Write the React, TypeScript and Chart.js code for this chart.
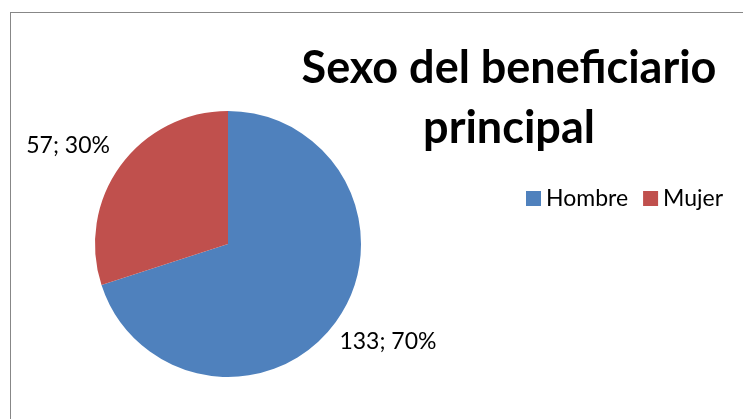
import React, { useEffect, useRef } from "react";
import { Chart, registerables } from "chart.js";

Chart.register(...registerables);

const categories = ["Hombre", "Mujer"];
const counts = [133, 57];
const percentLabels = ["70%", "30%"];
const colors = ["#4F81BD", "#C0504D"];
const titleLines = ["Sexo del beneficiario", "principal"];
const FONT = "Lato, 'Open Sans', sans-serif";

const decorPlugin = {
  id: "decor",
  beforeDraw(chart: any) {
    const ctx = chart.ctx;
    ctx.save();
    ctx.fillStyle = "#ffffff";
    ctx.fillRect(0, 0, chart.width, chart.height);
    ctx.strokeStyle = "#878787";
    ctx.lineWidth = 1;
    ctx.strokeRect(10.5, 12.5, chart.width + 20, chart.height + 20);
    ctx.restore();
  },
  afterDraw(chart: any) {
    const ctx = chart.ctx;
    ctx.save();
    // title
    ctx.fillStyle = "#000000";
    ctx.font = `bold 45px ${FONT}`;
    ctx.textAlign = "center";
    ctx.textBaseline = "alphabetic";
    ctx.fillText(titleLines[0], 509, 83);
    ctx.fillText(titleLines[1], 509, 143);

    // legend
    ctx.font = `23px ${FONT}`;
    ctx.textBaseline = "alphabetic";
    ctx.textAlign = "left";
    let x = 526;
    const base = 206;
    categories.forEach((c, i) => {
      ctx.fillStyle = colors[i];
      ctx.fillRect(x, base - 15, 15, 15);
      ctx.fillStyle = "#000";
      ctx.fillText(c, x + 20, base);
      x += 20 + ctx.measureText(c).width + 15;
    });

    // data labels
    const meta = chart.getDatasetMeta(0);
    ctx.font = `23px ${FONT}`;
    ctx.textAlign = "center";
    ctx.textBaseline = "middle";
    ctx.fillStyle = "#000";
    meta.data.forEach((arc: any, i: number) => {
      const p = arc.getProps(["x", "y", "startAngle", "endAngle", "outerRadius"], true);
      const mid = (p.startAngle + p.endAngle) / 2 - (4.5 * Math.PI) / 180;
      const r = p.outerRadius * 1.41;
      const lx = p.x + Math.cos(mid) * r;
      const ly = p.y + Math.sin(mid) * r;
      ctx.fillText(`${counts[i]}; ${percentLabels[i]}`, lx, ly);
    });
    ctx.restore();
  },
};

export default function App() {
  const ref = useRef<HTMLCanvasElement | null>(null);
  useEffect(() => {
    if (!ref.current) return;
    const chart = new Chart(ref.current, {
      type: "pie",
      data: {
        labels: categories,
        datasets: [
          {
            data: counts,
            backgroundColor: colors,
            borderWidth: 0,
          },
        ],
      },
      options: {
        animation: false,
        responsive: false,
        layout: { padding: { left: 95, right: 382, top: 111, bottom: 42 } },
        plugins: {
          legend: { display: false },
          title: { display: false },
          tooltip: { enabled: false },
        },
      },
      plugins: [decorPlugin],
    });
    return () => chart.destroy();
  }, []);
  return (
    <div style={{ position: "fixed", left: 0, top: 0, width: 743, height: 419, background: "#fff" }}>
      <canvas ref={ref} width={743} height={419} style={{ width: 743, height: 419 }} />
    </div>
  );
}
